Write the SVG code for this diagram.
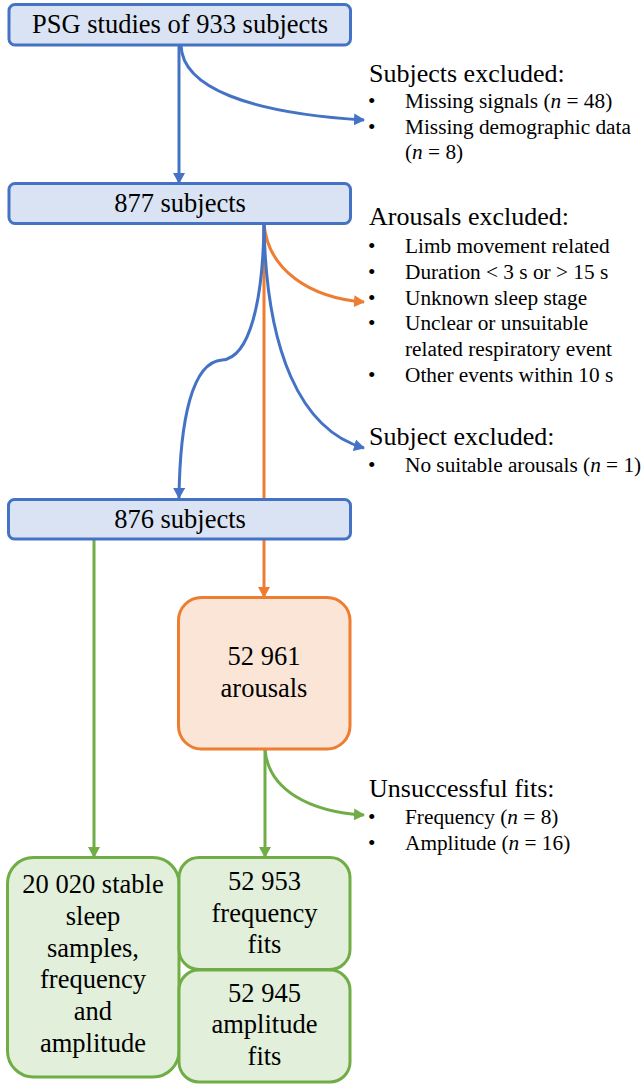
<svg xmlns="http://www.w3.org/2000/svg" width="642" height="1084" viewBox="0 0 642 1084">
<style>
.m{font-size:26.5px;text-anchor:middle}
.h{font-size:26px}
.b{font-size:21.3px}
.i{font-style:italic}
.bn{fill:#DAE3F3;stroke:#4472C4;stroke-width:3}
.on{fill:#FBE5D6;stroke:#ED7D31;stroke-width:3}
.gn{fill:#E2EFDA;stroke:#70AD47;stroke-width:3}
.cb{fill:none;stroke:#4472C4;stroke-width:3}
.co{fill:none;stroke:#ED7D31;stroke-width:3}
.cg{fill:none;stroke:#70AD47;stroke-width:3}
</style>
<defs>
<marker id="ab" markerUnits="userSpaceOnUse" markerWidth="13" markerHeight="13" refX="10" refY="6" orient="auto"><path d="M0,0 L11,6 L0,12 z" fill="#4472C4"/></marker>
<marker id="ao" markerUnits="userSpaceOnUse" markerWidth="13" markerHeight="13" refX="10" refY="6" orient="auto"><path d="M0,0 L11,6 L0,12 z" fill="#ED7D31"/></marker>
<marker id="ag" markerUnits="userSpaceOnUse" markerWidth="13" markerHeight="13" refX="10" refY="6" orient="auto"><path d="M0,0 L11,6 L0,12 z" fill="#70AD47"/></marker>
</defs>
<g id="connectors">
<path class="cb" d="M179,45 L179,183" marker-end="url(#ab)"/>
<path class="cb" d="M181,45 C182,88 250,113 364,120" marker-end="url(#ab)"/>
<path class="co" d="M264,224 L264,500"/>
<path class="co" d="M264,224 C268,270 310,298 364,302" marker-end="url(#ao)"/>
<path class="cb" d="M264,224 C266,350 300,430 364,448" marker-end="url(#ab)"/>
<path class="cb" d="M264,224 C263,300 250,358 222,360 C192,362 180,420 179,498" marker-end="url(#ab)"/>
<path class="co" d="M264,539 L264,597" marker-end="url(#ao)"/>
<path class="cg" d="M94,539 L94,857" marker-end="url(#ag)"/>
<path class="cg" d="M265,749 L265,857" marker-end="url(#ag)"/>
<path class="cg" d="M265,749 C268,790 310,812 364,815" marker-end="url(#ag)"/>
</g>
<g font-family="'Liberation Serif', 'Times New Roman', 'DejaVu Serif', serif" fill="#000">
<g id="n1"><rect class="bn" x="9" y="4.5" width="341.5" height="40.5" rx="6"/><text class="m" x="180" y="33">PSG studies of 933 subjects</text></g>
<g id="n2"><rect class="bn" x="9" y="183.5" width="341.5" height="40" rx="6"/><text class="m" x="180" y="212">877 subjects</text></g>
<g id="n3"><rect class="bn" x="8.5" y="499.5" width="342" height="39.5" rx="6"/><text class="m" x="180" y="528">876 subjects</text></g>
<g id="n4"><rect class="on" x="178.5" y="597.5" width="171.5" height="151.5" rx="23"/><text class="m" x="264" y="665">52 961</text><text class="m" x="264" y="697">arousals</text></g>
<g id="n5"><rect class="gn" x="7.5" y="857.5" width="171.5" height="219.5" rx="26"/>
<text class="m" x="93" y="893">20 020 stable</text><text class="m" x="93" y="925">sleep</text><text class="m" x="93" y="957">samples,</text><text class="m" x="93" y="988">frequency</text><text class="m" x="93" y="1020">and</text><text class="m" x="93" y="1052">amplitude</text></g>
<g id="n6"><rect class="gn" x="179" y="857.5" width="171" height="112" rx="20"/><text class="m" x="264.5" y="890">52 953</text><text class="m" x="264.5" y="922">frequency</text><text class="m" x="264.5" y="953">fits</text></g>
<g id="n7"><rect class="gn" x="179" y="970" width="171" height="112" rx="20"/><text class="m" x="264.5" y="1002">52 945</text><text class="m" x="264.5" y="1033">amplitude</text><text class="m" x="264.5" y="1065">fits</text></g>
<g id="ex1">
<text class="h" x="369" y="82">Subjects excluded:</text>
<text class="b" x="368" y="108">•</text><text class="b" x="405" y="108">Missing signals (<tspan class="i">n</tspan> = 48)</text>
<text class="b" x="368" y="134">•</text><text class="b" x="405" y="134">Missing demographic data</text>
<text class="b" x="405" y="159">(<tspan class="i">n</tspan> = 8)</text>
</g>
<g id="ex2">
<text class="h" x="369" y="225">Arousals excluded:</text>
<text class="b" x="368" y="253">•</text><text class="b" x="405" y="253">Limb movement related</text>
<text class="b" x="368" y="279">•</text><text class="b" x="405" y="279">Duration &lt; 3 s or &gt; 15 s</text>
<text class="b" x="368" y="305">•</text><text class="b" x="405" y="305">Unknown sleep stage</text>
<text class="b" x="368" y="330">•</text><text class="b" x="405" y="330">Unclear or unsuitable</text>
<text class="b" x="405" y="356">related respiratory event</text>
<text class="b" x="368" y="382">•</text><text class="b" x="405" y="382">Other events within 10 s</text>
</g>
<g id="ex3">
<text class="h" x="369" y="445">Subject excluded:</text>
<text class="b" x="368" y="472">•</text><text class="b" x="405" y="472">No suitable arousals (<tspan class="i">n</tspan> = 1)</text>
</g>
<g id="ex4">
<text class="h" x="369" y="797">Unsuccessful fits:</text>
<text class="b" x="368" y="824">•</text><text class="b" x="405" y="824">Frequency (<tspan class="i">n</tspan> = 8)</text>
<text class="b" x="368" y="850">•</text><text class="b" x="405" y="850">Amplitude (<tspan class="i">n</tspan> = 16)</text>
</g>
</g>
</svg>
